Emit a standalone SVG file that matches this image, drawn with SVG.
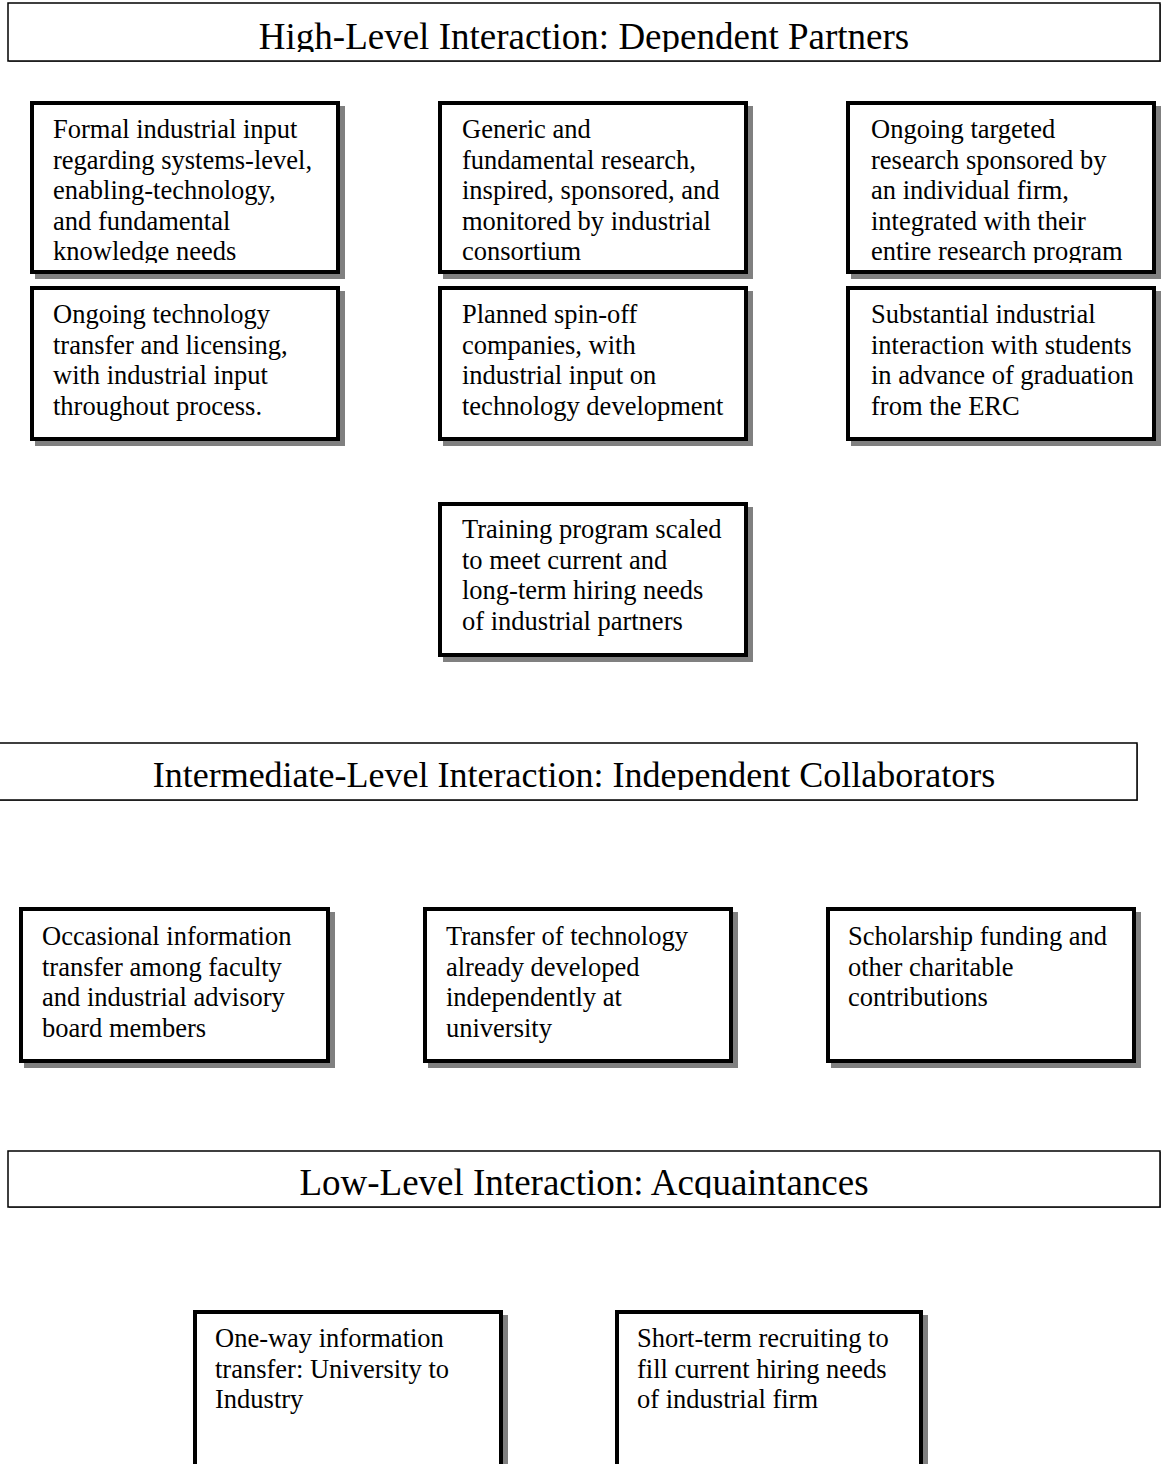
<svg xmlns="http://www.w3.org/2000/svg" width="1162" height="1464" viewBox="0 0 1162 1464">
<style>
.hdr{fill:#fff;stroke:#000;stroke-width:1.5}
.hsh{fill:#808080}
.ht{font-family:"Liberation Serif","Times New Roman",serif;font-size:37px;fill:#000;text-anchor:middle}
.box{fill:#fff;stroke:#000;stroke-width:4}
.sh{fill:#808080}
.nt{font-family:"Liberation Serif","Times New Roman",serif;font-size:26.5px;fill:#000}
</style>
<defs>
<clipPath id="c1"><rect x="0" y="0" width="1162" height="52"/></clipPath>
<clipPath id="c2"><rect x="0" y="744" width="1162" height="46"/></clipPath>
<clipPath id="c3"><rect x="0" y="1152" width="1162" height="46"/></clipPath>
<clipPath id="cr1"><rect x="0" y="100" width="1162" height="163"/></clipPath>
</defs>

<g id="header-high">
<rect class="hsh" x="9" y="4" width="1152" height="58"/>
<rect class="hdr" x="8" y="3" width="1152" height="58"/>
<text class="ht" x="584" y="49" clip-path="url(#c1)">High-Level Interaction: Dependent Partners</text>
</g>

<g id="n1">
<rect class="sh" x="35" y="106" width="310" height="173"/>
<rect class="box" x="32" y="103" width="306" height="169"/>
<text class="nt" clip-path="url(#cr1)"><tspan x="53" y="138">Formal industrial input</tspan><tspan x="53" y="168.5">regarding systems-level,</tspan><tspan x="53" y="199">enabling-technology,</tspan><tspan x="53" y="229.5">and fundamental</tspan><tspan x="53" y="260">knowledge needs</tspan></text>
</g>
<g id="n2">
<rect class="sh" x="443" y="106" width="310" height="173"/>
<rect class="box" x="440" y="103" width="306" height="169"/>
<text class="nt" clip-path="url(#cr1)"><tspan x="462" y="138">Generic and</tspan><tspan x="462" y="168.5">fundamental research,</tspan><tspan x="462" y="199">inspired, sponsored, and</tspan><tspan x="462" y="229.5">monitored by industrial</tspan><tspan x="462" y="260">consortium</tspan></text>
</g>
<g id="n3">
<rect class="sh" x="851" y="106" width="310" height="173"/>
<rect class="box" x="848" y="103" width="306" height="169"/>
<text class="nt" clip-path="url(#cr1)"><tspan x="871" y="138">Ongoing targeted</tspan><tspan x="871" y="168.5">research sponsored by</tspan><tspan x="871" y="199">an individual firm,</tspan><tspan x="871" y="229.5">integrated with their</tspan><tspan x="871" y="260">entire research program</tspan></text>
</g>

<g id="n4">
<rect class="sh" x="35" y="291" width="310" height="155"/>
<rect class="box" x="32" y="288" width="306" height="151"/>
<text class="nt"><tspan x="53" y="323">Ongoing technology</tspan><tspan x="53" y="353.5">transfer and licensing,</tspan><tspan x="53" y="384">with industrial input</tspan><tspan x="53" y="414.5">throughout process.</tspan></text>
</g>
<g id="n5">
<rect class="sh" x="443" y="291" width="310" height="155"/>
<rect class="box" x="440" y="288" width="306" height="151"/>
<text class="nt"><tspan x="462" y="323">Planned spin-off</tspan><tspan x="462" y="353.5">companies, with</tspan><tspan x="462" y="384">industrial input on</tspan><tspan x="462" y="414.5">technology development</tspan></text>
</g>
<g id="n6">
<rect class="sh" x="851" y="291" width="310" height="155"/>
<rect class="box" x="848" y="288" width="306" height="151"/>
<text class="nt"><tspan x="871" y="323">Substantial industrial</tspan><tspan x="871" y="353.5">interaction with students</tspan><tspan x="871" y="384">in advance of graduation</tspan><tspan x="871" y="414.5">from the ERC</tspan></text>
</g>

<g id="n7">
<rect class="sh" x="443" y="507" width="310" height="155"/>
<rect class="box" x="440" y="504" width="306" height="151"/>
<text class="nt"><tspan x="462" y="538">Training program scaled</tspan><tspan x="462" y="568.5">to meet current and</tspan><tspan x="462" y="599">long-term hiring needs</tspan><tspan x="462" y="629.5">of industrial partners</tspan></text>
</g>

<g id="header-intermediate">
<rect class="hsh" x="0" y="744" width="1138" height="57"/>
<rect class="hdr" x="-1" y="743" width="1138" height="57"/>
<text class="ht" x="574" y="787" style="font-size:36px" clip-path="url(#c2)">Intermediate-Level Interaction: Independent Collaborators</text>
</g>

<g id="n8">
<rect class="sh" x="24" y="912" width="311" height="156"/>
<rect class="box" x="21" y="909" width="307" height="152"/>
<text class="nt"><tspan x="42" y="945">Occasional information</tspan><tspan x="42" y="975.5">transfer among faculty</tspan><tspan x="42" y="1006">and industrial advisory</tspan><tspan x="42" y="1036.5">board members</tspan></text>
</g>
<g id="n9">
<rect class="sh" x="428" y="912" width="310" height="156"/>
<rect class="box" x="425" y="909" width="306" height="152"/>
<text class="nt"><tspan x="446" y="945">Transfer of technology</tspan><tspan x="446" y="975.5">already developed</tspan><tspan x="446" y="1006">independently at</tspan><tspan x="446" y="1036.5">university</tspan></text>
</g>
<g id="n10">
<rect class="sh" x="831" y="912" width="310" height="156"/>
<rect class="box" x="828" y="909" width="306" height="152"/>
<text class="nt"><tspan x="848" y="945">Scholarship funding and</tspan><tspan x="848" y="975.5">other charitable</tspan><tspan x="848" y="1006">contributions</tspan></text>
</g>

<g id="header-low">
<rect class="hsh" x="9" y="1152" width="1152" height="56"/>
<rect class="hdr" x="8" y="1151" width="1152" height="56"/>
<text class="ht" x="584" y="1195" clip-path="url(#c3)">Low-Level Interaction: Acquaintances</text>
</g>

<g id="n11">
<rect class="sh" x="198" y="1315" width="310" height="170"/>
<rect class="box" x="195" y="1312" width="306" height="166"/>
<text class="nt"><tspan x="215" y="1347">One-way information</tspan><tspan x="215" y="1377.5">transfer: University to</tspan><tspan x="215" y="1408">Industry</tspan></text>
</g>
<g id="n12">
<rect class="sh" x="620" y="1315" width="308" height="170"/>
<rect class="box" x="617" y="1312" width="304" height="166"/>
<text class="nt"><tspan x="637" y="1347">Short-term recruiting to</tspan><tspan x="637" y="1377.5">fill current hiring needs</tspan><tspan x="637" y="1408">of industrial firm</tspan></text>
</g>

<g id="connectors"></g>
</svg>
